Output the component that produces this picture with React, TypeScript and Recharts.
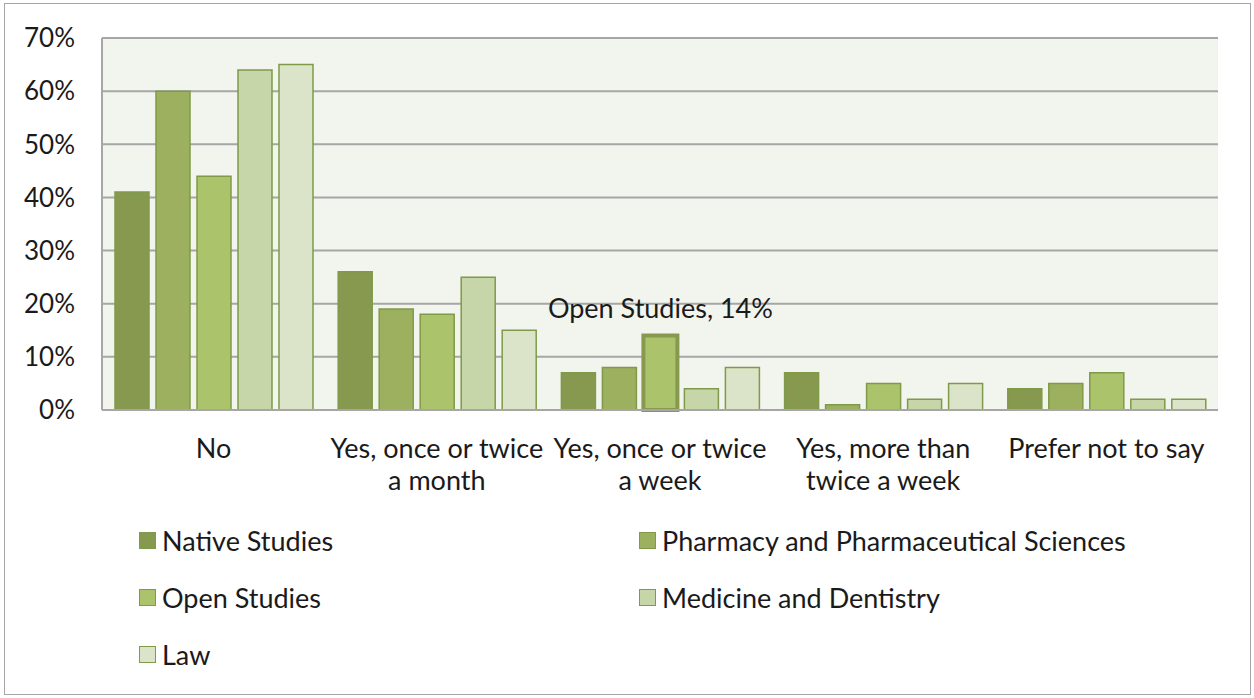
import React from "react";
import { Bar, BarChart, CartesianGrid, Cell, LabelList, XAxis, YAxis } from "recharts";

const categories = [
  "No",
  "Yes, once or twice a month",
  "Yes, once or twice a week",
  "Yes, more than twice a week",
  "Prefer not to say",
];

const categoryLines = [
  ["No"],
  ["Yes, once or twice", "a month"],
  ["Yes, once or twice", "a week"],
  ["Yes, more than", "twice a week"],
  ["Prefer not to say"],
];

const nativeStudies = [41, 26, 7, 7, 4];
const pharmacy = [60, 19, 8, 1, 5];
const openStudies = [44, 18, 14, 5, 7];
const medicine = [64, 25, 4, 2, 2];
const law = [65, 15, 8, 5, 2];

const yTicks = [0, 10, 20, 30, 40, 50, 60, 70];

const series = [
  { key: "native", name: "Native Studies", values: nativeStudies, fill: "#87994f" },
  { key: "pharmacy", name: "Pharmacy and Pharmaceutical Sciences", values: pharmacy, fill: "#9cb060" },
  { key: "open", name: "Open Studies", values: openStudies, fill: "#abc46c" },
  { key: "medicine", name: "Medicine and Dentistry", values: medicine, fill: "#c7d6a8" },
  { key: "law", name: "Law", values: law, fill: "#dbe4c9" },
];

const highlightIndex = 2;

const data = categories.map((c, i) => {
  const row: Record<string, string | number> = { category: c };
  series.forEach((s) => {
    row[s.key] = s.values[i];
  });
  return row;
});

const FONT = "Lato, 'Open Sans', sans-serif";
const TEXT = "#1a1a1a";

function XTick(props: any) {
  const { x, y, payload, index } = props;
  const lines = categoryLines[index] ?? [payload.value];
  return (
    <text x={x} y={y + 40} textAnchor="middle" fill={TEXT} fontSize={27} fontFamily={FONT}>
      {lines.map((l: string, i: number) => (
        <tspan key={i} x={x} dy={i === 0 ? 0 : 32}>
          {l}
        </tspan>
      ))}
    </text>
  );
}

function HighlightLabel(props: any) {
  const { x, y, width, index, value } = props;
  if (index !== highlightIndex) return null;
  return (
    <text x={x + width / 2} y={y - 18} textAnchor="middle" fill={TEXT} fontSize={27} fontFamily={FONT}>
      {`Open Studies, ${value}%`}
    </text>
  );
}

export default function App() {
  return (
    <div style={{ position: "absolute", left: 0, top: 0, width: 1254, height: 698, background: "#fff", fontFamily: FONT }}>
      <div
        style={{
          position: "absolute",
          left: 4,
          top: 3,
          width: 1245,
          height: 690,
          border: "1px solid #a6a6a6",
        }}
      />
      <BarChart
        width={1254}
        height={698}
        data={data}
        margin={{ top: 38, right: 36, bottom: 208, left: 7 }}
        barCategoryGap={13}
        barGap={7}
      >
        <CartesianGrid vertical={false} stroke="#a6a6a6" strokeWidth={2} fill="#f2f4ee" />
        <XAxis
          dataKey="category"
          interval={0}
          tickLine={false}
          axisLine={{ stroke: "#a6a6a6", strokeWidth: 2 }}
          tick={<XTick />}
          height={80}
        />
        <YAxis
          domain={[0, 70]}
          ticks={yTicks}
          tickFormatter={(v: number) => `${v}%`}
          tickLine={false}
          axisLine={{ stroke: "#a6a6a6", strokeWidth: 2 }}
          tick={{ fill: TEXT, fontSize: 26, fontFamily: FONT }}
          tickMargin={21}
          width={95}
        />
        {series.map((s) => (
          <Bar
            key={s.key}
            dataKey={s.key}
            name={s.name}
            fill={s.fill}
            stroke="#7f9a48"
            strokeWidth={1.5}
            isAnimationActive={false}
          >
            {s.key === "open" &&
              data.map((_, i) => (
                <Cell
                  key={i}
                  fill={s.fill}
                  stroke={i === highlightIndex ? "#87994f" : "#7f9a48"}
                  strokeWidth={i === highlightIndex ? 4 : 1.5}
                />
              ))}
            {s.key === "open" && <LabelList dataKey="open" content={<HighlightLabel />} />}
          </Bar>
        ))}
      </BarChart>
      {series.map((s, i) => (
        <div
          key={s.key}
          style={{
            position: "absolute",
            left: 139,
            marginLeft: i % 2 === 0 ? 0 : 500,
            top: 523 + Math.floor(i / 2) * 57,
            display: "flex",
            alignItems: "center",
            fontSize: 27,
            color: TEXT,
            height: 34,
            whiteSpace: "nowrap",
          }}
        >
          <span
            style={{
              display: "inline-block",
              width: 15,
              height: 15,
              background: s.fill,
              border: "1.5px solid #7f9a48",
              marginRight: 6,
            }}
          />
          {s.name}
        </div>
      ))}
    </div>
  );
}
